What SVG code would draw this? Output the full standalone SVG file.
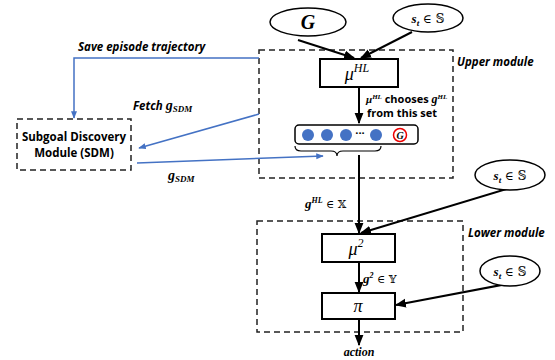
<svg xmlns="http://www.w3.org/2000/svg" width="555" height="360" viewBox="0 0 555 360">
<defs>
<marker id="ab" viewBox="0 0 10 10" refX="9" refY="5" markerWidth="5.5" markerHeight="5.5" orient="auto-start-reverse"><path d="M0,1 L10,5 L0,9 z" fill="#000"/></marker>
<marker id="au" viewBox="0 0 10 10" refX="9" refY="5" markerWidth="5" markerHeight="5" orient="auto-start-reverse"><path d="M0,1 L10,5 L0,9 z" fill="#4472C4"/></marker>
<style>
.dash{fill:none;stroke:#222;stroke-width:1.5;stroke-dasharray:6,4}
.box{fill:#fff;stroke:#000;stroke-width:2}
.ell{fill:#fff;stroke:#000;stroke-width:1.5}
.blk{stroke:#000;stroke-width:2;fill:none}
.blu{stroke:#4472C4;stroke-width:1.5;fill:none}
.lab{font-family:"Open Sans","Liberation Sans",sans-serif;font-weight:bold;font-size:11px;fill:#000}
.big{font-size:11.5px}
.it{font-style:italic}
.m{font-family:"Liberation Serif","DejaVu Serif",serif;font-style:italic;fill:#000}
.mb{font-family:"Liberation Serif","DejaVu Serif",serif;font-style:italic;font-weight:bold;fill:#000}
.ds{font-family:"DejaVu Serif","DejaVu Sans",serif;font-style:normal;font-weight:normal}
.dot{fill:#4472C4}
</style>
</defs>

<g id="upper-module">
<rect class="dash" x="259" y="50" width="194" height="128"/>
<text class="lab it big" x="457" y="66">Upper module</text>
</g>
<g id="lower-module">
<rect class="dash" x="257" y="221" width="206" height="111"/>
<text class="lab it big" x="468" y="237">Lower module</text>
</g>

<g id="connectors">
<line class="blk" x1="298" y1="40" x2="354" y2="58" marker-end="url(#ab)"/>
<line class="blk" x1="412" y1="32" x2="361" y2="58" marker-end="url(#ab)"/>
<line class="blk" x1="359" y1="87" x2="359" y2="123" marker-end="url(#ab)"/>
<line class="blk" x1="359" y1="155" x2="359" y2="233" marker-end="url(#ab)"/>
<line class="blk" x1="510" y1="188" x2="361" y2="233" marker-end="url(#ab)"/>
<line class="blk" x1="359" y1="262" x2="359" y2="292" marker-end="url(#ab)"/>
<line class="blk" x1="512" y1="283" x2="396" y2="305" marker-end="url(#ab)"/>
<line class="blk" x1="359" y1="319" x2="359" y2="345" marker-end="url(#ab)"/>
<polyline class="blu" points="259,58 74,58 74,118" marker-end="url(#au)"/>
<line class="blu" x1="259" y1="114" x2="139" y2="148" marker-end="url(#au)"/>
<line class="blu" x1="137" y1="163" x2="323" y2="156" marker-end="url(#au)"/>
</g>

<g id="G-goal">
<ellipse class="ell" cx="308" cy="22" rx="38" ry="14"/>
<text class="mb" x="308" y="29" font-size="20" text-anchor="middle">G</text>
</g>
<g id="st-top">
<ellipse class="ell" cx="428" cy="18" rx="35" ry="14"/>
<text class="mb" x="428" y="23" font-size="13" text-anchor="middle">s<tspan font-size="9" dy="3">t</tspan><tspan dy="-3" class="ds" font-size="12"> ∈ 𝕊</tspan></text>
</g>
<g id="st-mid">
<ellipse class="ell" cx="510" cy="175" rx="35" ry="15"/>
<text class="mb" x="510" y="180" font-size="13" text-anchor="middle">s<tspan font-size="9" dy="3">t</tspan><tspan dy="-3" class="ds" font-size="12"> ∈ 𝕊</tspan></text>
</g>
<g id="st-low">
<ellipse class="ell" cx="510" cy="271" rx="30" ry="15"/>
<text class="mb" x="510" y="276" font-size="13" text-anchor="middle">s<tspan font-size="9" dy="3">t</tspan><tspan dy="-3" class="ds" font-size="12"> ∈ 𝕊</tspan></text>
</g>

<g id="mu-HL">
<rect class="box" x="320" y="59" width="78" height="28"/>
<text class="m" x="357" y="80" font-size="18" text-anchor="middle">μ<tspan font-size="12" dy="-8">HL</tspan></text>
</g>
<text class="lab" x="366" y="103" font-size="9.5"><tspan class="mb" font-size="11">μ<tspan font-size="7" dy="-4">HL</tspan></tspan><tspan dy="4"> chooses </tspan><tspan class="mb" font-size="12">g<tspan font-size="7" dy="-4">HL</tspan></tspan></text>
<text class="lab" x="402" y="117" font-size="9.5" text-anchor="middle">from this set</text>

<g id="subgoal-set">
<rect x="295" y="125" width="123" height="19" rx="4" fill="#fff" stroke="#000" stroke-width="1.5"/>
<circle class="dot" cx="308" cy="135" r="6"/>
<circle class="dot" cx="327" cy="135" r="6"/>
<circle class="dot" cx="346" cy="135" r="6"/>
<text class="lab" x="360" y="137" font-size="8" text-anchor="middle">···</text>
<circle class="dot" cx="376" cy="135" r="6"/>
<circle cx="400" cy="135" r="6.5" fill="#fff" stroke="#e00" stroke-width="1.5"/>
<text class="mb" x="400" y="139" font-size="10" text-anchor="middle">G</text>
<path d="M295,146 Q295,151 301,151 L331,151 Q337,151 337,156 Q337,151 343,151 L375,151 Q381,151 381,146" fill="none" stroke="#000" stroke-width="1.2"/>
</g>

<text class="mb" x="305" y="208" font-size="13">g<tspan font-size="8" dy="-5">HL</tspan><tspan dy="5" class="ds" font-size="11"> ∈ 𝕏</tspan></text>

<g id="mu-2">
<rect class="box" x="322" y="234" width="73" height="28"/>
<text class="m" x="356" y="255" font-size="18" text-anchor="middle">μ<tspan font-size="12" dy="-8">2</tspan></text>
</g>
<text class="mb" x="363" y="283" font-size="13">g<tspan font-size="8" dy="-5">2</tspan><tspan dy="5" class="ds" font-size="11"> ∈ 𝕐</tspan></text>
<g id="pi">
<rect class="box" x="322" y="293" width="73" height="26"/>
<text class="m" x="358" y="312" font-size="18" text-anchor="middle">π</text>
</g>
<text class="mb" x="359" y="356" font-size="12" text-anchor="middle">action</text>

<g id="SDM">
<rect class="dash" x="17" y="119" width="114" height="51"/>
<text class="lab big" x="74" y="141" text-anchor="middle">Subgoal Discovery</text>
<text class="lab big" x="74" y="157" text-anchor="middle">Module (SDM)</text>
</g>

<text class="lab it big" x="78" y="51">Save episode trajectory</text>
<text class="lab it big" x="133" y="110">Fetch <tspan class="mb" font-size="14" font-style="italic">g<tspan font-size="9" dy="2">SDM</tspan></tspan></text>
<text class="mb" x="168" y="180" font-size="14">g<tspan font-size="9" dy="2">SDM</tspan></text>
</svg>
